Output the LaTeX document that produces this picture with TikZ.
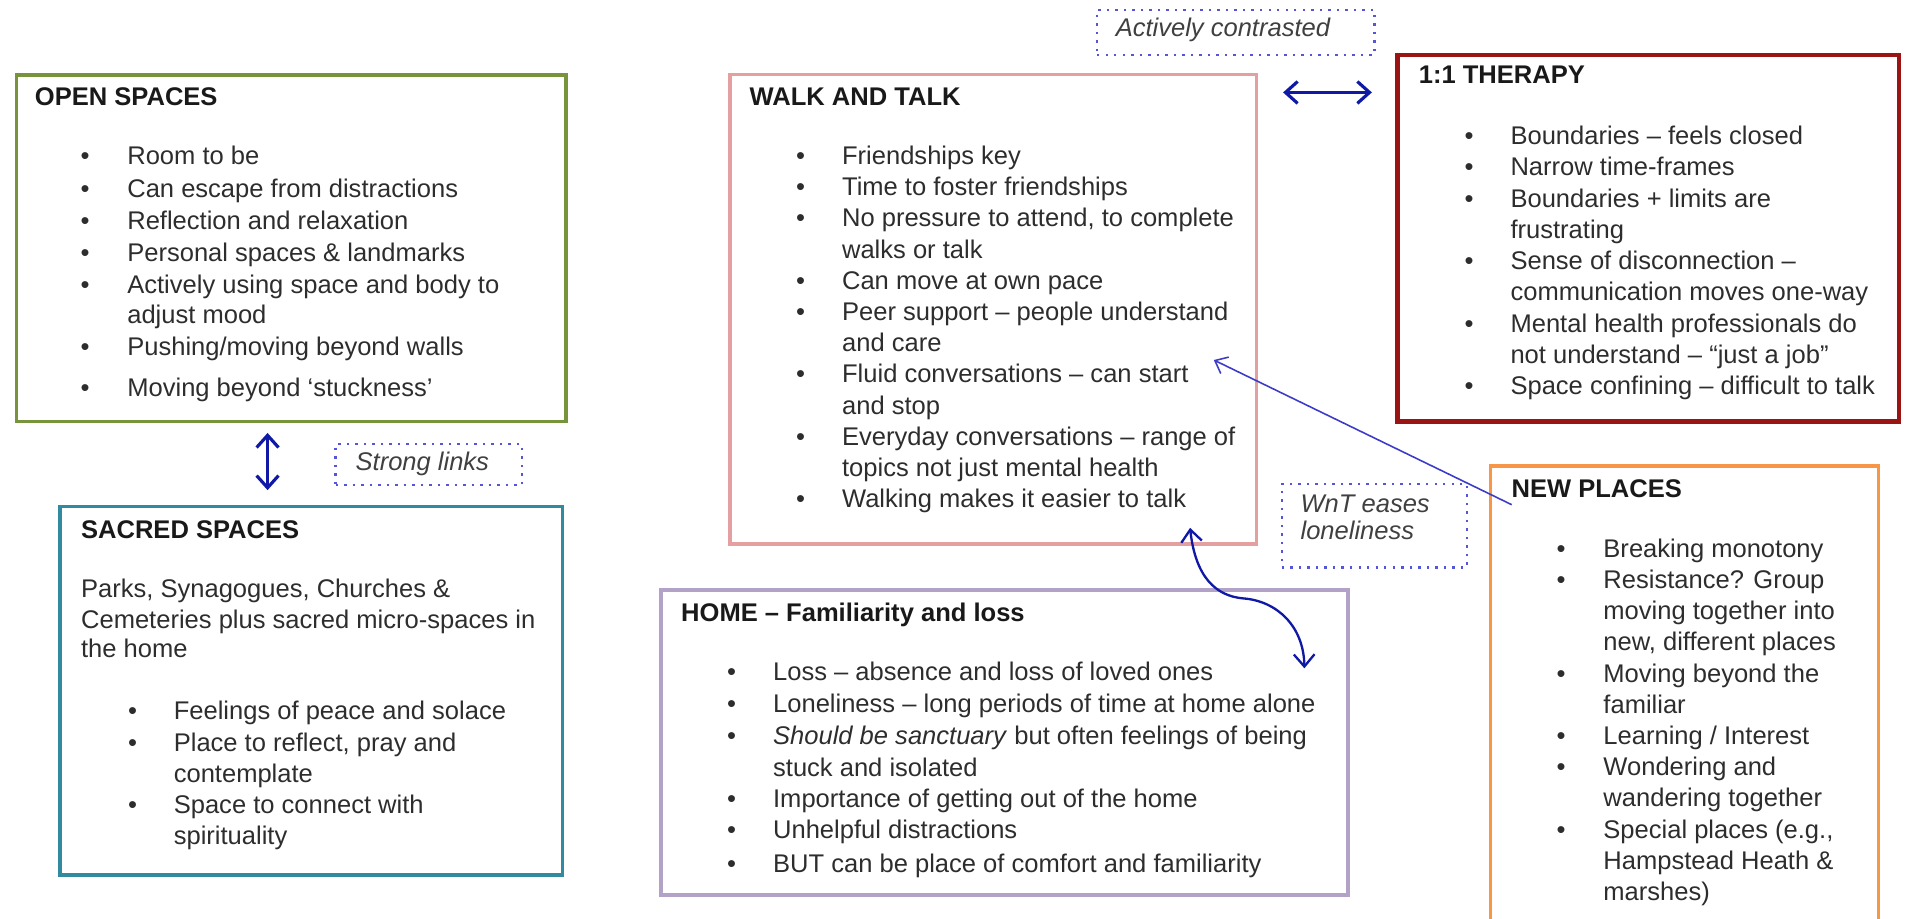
\documentclass[tikz,border=0pt]{standalone}
\usepackage{fontspec}
\setmainfont{Liberation Sans}
\usetikzlibrary{arrows.meta,fit}

\definecolor{opengreen}{RGB}{119,147,60}
\definecolor{sacredteal}{RGB}{49,138,160}
\definecolor{walkpink}{RGB}{228,160,160}
\definecolor{therapyred}{RGB}{155,20,20}
\definecolor{neworange}{RGB}{247,150,70}
\definecolor{homelilac}{RGB}{179,162,199}
\definecolor{linkblue}{RGB}{15,25,165}
\definecolor{lineblue}{RGB}{60,60,200}
\definecolor{dotblue}{RGB}{85,85,220}
\definecolor{bodygray}{RGB}{45,45,45}

\newcommand\bodyfont{\fontsize{10.5pt}{12.6pt}\selectfont}
% one line of text: name, x, baseline y, text
\newcommand\tline[4]{\node[txt] (#1) at (#2,#3) {#4};}
% bulleted line: name, bullet x, text x, baseline y, text
\newcommand\bitem[5]{\node[bul] (#1b) at (#2,#4) {\textbullet};\node[txt] (#1) at (#3,#4) {#5};}

\tikzset{
  txt/.style={anchor=base west, inner sep=0pt, font=\bodyfont, text=bodygray},
  ttl/.style={txt, font=\bodyfont\bfseries, text=black!90},
  note/.style={txt, font=\bodyfont\itshape, text=black!75},
  bul/.style={anchor=base, inner sep=0pt, font=\bodyfont, text=bodygray},
  box/.style={draw=#1, line width=1.5pt, inner sep=0pt},
  dotbox/.style={draw=dotblue, line width=1pt, dash pattern=on 1pt off 2.5pt, inner sep=0pt},
  link/.style={draw=linkblue, line width=1.3pt, >={Straight Barb[length=5pt,width=9pt]}, <->},
  curvelink/.style={draw=linkblue, line width=0.95pt, >={Straight Barb[length=5pt,width=8.5pt]}, <->},
  ray/.style={draw=lineblue, line width=0.65pt, >={Straight Barb[length=4.5pt,width=7.5pt]}, ->},
}

\begin{document}
\begin{tikzpicture}[x=0.5pt, y=-0.5pt]
\useasboundingbox (0,0) rectangle (1568,755);

% ---------- frames ----------
\node[box=opengreen, fit={(13.5,61.5) (465.5,346.5)}] (open) {};
\node[box=sacredteal, fit={(49.5,416.5) (462.5,719.5)}] (sacred) {};
\node[box=walkpink, fit={(600.4,61.3) (1033,447.5)}] (walk) {};
\node[box=therapyred, line width=1.8pt, fit={(1149,45.3) (1561.5,346.6)}] (therapy) {};
\node[box=neworange, fit={(1225.5,383) (1544.5,770)}] (newplaces) {};
\node[box=homelilac, fit={(543.4,485.2) (1108.5,735.8)}] (home) {};

\node[dotbox, fit={(902,8) (1130,45)}] (contrast) {};
\node[dotbox, fit={(276,365) (429,399)}] (strong) {};
\node[dotbox, fit={(1054,398) (1206,466.5)}] (eases) {};

% ---------- open spaces ----------
\node[ttl] (open-t) at (28.3,86.5) {OPEN SPACES};
\bitem{o1}{70}{104.3}{135.3}{Room to be}
\bitem{o2}{70}{104.3}{162.2}{Can escape from distractions}
\bitem{o3}{70}{104.3}{188.8}{Reflection and relaxation}
\bitem{o4}{70}{104.3}{214.8}{Personal spaces \& landmarks}
\bitem{o5}{70}{104.3}{241.7}{Actively using space and body to}
\tline{o5c}{104.3}{266.3}{adjust mood}
\bitem{o6}{70}{104.3}{292.1}{Pushing/moving beyond walls}
\bitem{o7}{70}{104.3}{325.8}{Moving beyond ‘stuckness’}

% ---------- sacred spaces ----------
\node[ttl] (sacred-t) at (66.3,442.5) {SACRED SPACES};
\tline{s0a}{66.3}{491.5}{Parks, Synagogues, Churches \&}
\tline{s0b}{66.3}{516.5}{Cemeteries plus sacred micro-spaces in}
\tline{s0c}{66.3}{540.5}{the home}
\bitem{s1}{109}{142.5}{591.5}{Feelings of peace and solace}
\bitem{s2}{109}{142.5}{617.5}{Place to reflect, pray and}
\tline{s2c}{142.5}{643.5}{contemplate}
\bitem{s3}{109}{142.5}{668.5}{Space to connect with}
\tline{s3c}{142.5}{694.5}{spirituality}

% ---------- walk and talk ----------
\node[ttl] (walk-t) at (616,86.5) {WALK AND TALK};
\bitem{w1}{658.3}{692}{135.3}{Friendships key}
\bitem{w2}{658.3}{692}{161.0}{Time to foster friendships}
\bitem{w3}{658.3}{692}{186.6}{No pressure to attend, to complete}
\tline{w3c}{692}{212.3}{walks or talk}
\bitem{w4}{658.3}{692}{237.9}{Can move at own pace}
\bitem{w5}{658.3}{692}{263.6}{Peer support – people understand}
\tline{w5c}{692}{289.2}{and care}
\bitem{w6}{658.3}{692}{314.9}{Fluid conversations – can start}
\tline{w6c}{692}{340.5}{and stop}
\bitem{w7}{658.3}{692}{366.2}{Everyday conversations – range of}
\tline{w7c}{692}{391.8}{topics not just mental health}
\bitem{w8}{658.3}{692}{417.5}{Walking makes it easier to talk}

% ---------- 1:1 therapy ----------
\node[ttl] (therapy-t) at (1166.2,69) {1:1 THERAPY};
\bitem{t1}{1208}{1241.6}{118.9}{Boundaries – feels closed}
\bitem{t2}{1208}{1241.6}{144.6}{Narrow time-frames}
\bitem{t3}{1208}{1241.6}{170.3}{Boundaries + limits are}
\tline{t3c}{1241.6}{196.0}{frustrating}
\bitem{t4}{1208}{1241.6}{221.7}{Sense of disconnection –}
\tline{t4c}{1241.6}{247.4}{communication moves one-way}
\bitem{t5}{1208}{1241.6}{273.1}{Mental health professionals do}
\tline{t5c}{1241.6}{298.8}{not understand – “just a job”}
\bitem{t6}{1208}{1241.6}{324.5}{Space confining – difficult to talk}

% ---------- new places ----------
\node[ttl] (newplaces-t) at (1242.5,409) {NEW PLACES};
\bitem{n1}{1283.5}{1318}{458.2}{Breaking monotony}
\bitem{n2}{1283.5}{1318}{483.9}{Resistance? Group}
\tline{n2c}{1318}{509.5}{moving together into}
\tline{n2d}{1318}{535.2}{new, different places}
\bitem{n3}{1283.5}{1318}{560.8}{Moving beyond the}
\tline{n3c}{1318}{586.5}{familiar}
\bitem{n4}{1283.5}{1318}{612.2}{Learning / Interest}
\bitem{n5}{1283.5}{1318}{637.8}{Wondering and}
\tline{n5c}{1318}{663.5}{wandering together}
\bitem{n6}{1283.5}{1318}{689.1}{Special places (e.g.,}
\tline{n6c}{1318}{714.8}{Hampstead Heath \&}
\tline{n6d}{1318}{740.5}{marshes)}

% ---------- home ----------
\node[ttl] (home-t) at (559.7,510.8) {HOME – Familiarity and loss};
\bitem{h1}{601.6}{635.3}{559.6}{Loss – absence and loss of loved ones}
\bitem{h2}{601.6}{635.3}{586.2}{Loneliness – long periods of time at home alone}
\bitem{h3}{601.6}{635.3}{612.2}{\textit{Should be sanctuary} but often feelings of being}
\tline{h3c}{635.3}{638.2}{stuck and isolated}
\bitem{h4}{601.6}{635.3}{663.7}{Importance of getting out of the home}
\bitem{h5}{601.6}{635.3}{689.5}{Unhelpful distractions}
\bitem{h6}{601.6}{635.3}{717.7}{BUT can be place of comfort and familiarity}

% ---------- relation labels ----------
\node[note] (contrast-t) at (917,30) {Actively contrasted};
\node[note] (strong-t) at (292,386.5) {Strong links};
\node[note] (eases-t1) at (1069,421.7) {WnT eases};
\node[note] (eases-t2) at (1069,443.7) {loneliness};

% ---------- connectors ----------
\coordinate (openlow) at (220,356);
\coordinate (sacredtop) at (220,403);
\draw[link] (openlow) -- (sacredtop);

\coordinate (walkright) at (1055,76);
\coordinate (therapyleft) at (1128,76);
\draw[link] (walkright) -- (therapyleft);

\coordinate (newplacesin) at (1243,415);
\coordinate (walkin) at (998,296);
\draw[ray] (newplacesin) -- (walkin);

\coordinate (walkfoot) at (978.5,434);
\coordinate (homein) at (1072.5,549.5);
\draw[curvelink] (walkfoot) .. controls (983,475) and (1000,490) .. (1022,492)
  .. controls (1050,494) and (1072,515) .. (homein);
\end{tikzpicture}
\end{document}
